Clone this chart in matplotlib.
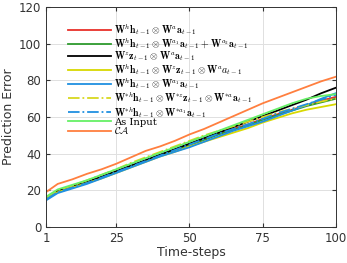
import numpy as np
import matplotlib.pyplot as plt

plt.rcParams['mathtext.fontset'] = 'cm'

steps = [1, 5, 10, 15, 20, 25, 30, 35, 40, 45, 50, 55, 60, 65, 70, 75, 80, 85, 90, 95, 100]

red    = [15.5, 19.5, 22.0, 24.5, 27.0, 30.0, 33.0, 36.0, 39.0, 42.0, 45.0, 48.0, 51.0, 53.5, 56.0, 59.0, 61.5, 64.0, 66.5, 69.0, 71.0]
green  = [15.5, 19.5, 22.0, 24.5, 27.0, 30.0, 33.0, 36.0, 39.0, 42.0, 44.5, 47.5, 50.5, 53.0, 55.5, 58.5, 61.0, 63.5, 66.0, 68.0, 70.0]
black  = [15.5, 19.5, 22.0, 24.5, 27.5, 30.5, 33.5, 36.5, 39.5, 42.5, 45.5, 48.5, 51.5, 54.5, 57.5, 60.5, 63.5, 66.5, 69.5, 73.0, 76.0]
yellow = [15.0, 19.0, 21.5, 24.0, 26.5, 29.5, 32.5, 35.5, 38.5, 41.0, 44.0, 46.5, 49.0, 51.5, 54.0, 57.0, 59.5, 62.0, 64.0, 65.5, 67.0]
blue   = [14.5, 18.5, 21.0, 23.5, 26.5, 29.5, 32.5, 35.5, 38.5, 41.0, 43.5, 46.5, 49.5, 52.5, 55.0, 57.5, 60.5, 63.5, 66.5, 70.0, 73.0]
ydash  = [16.0, 20.0, 22.5, 25.5, 28.5, 31.5, 35.0, 38.0, 41.0, 44.0, 47.0, 50.0, 52.5, 55.0, 57.5, 60.0, 62.5, 64.5, 66.5, 68.5, 70.0]
bdash  = [15.0, 19.0, 21.5, 24.0, 27.0, 30.0, 33.0, 36.0, 39.0, 42.0, 45.0, 48.0, 51.0, 53.5, 56.0, 59.0, 62.0, 64.5, 67.0, 69.5, 72.0]
asinp  = [16.5, 20.5, 23.0, 25.5, 28.5, 31.5, 34.5, 37.5, 40.5, 43.5, 46.5, 49.5, 52.5, 55.5, 58.5, 61.5, 64.5, 67.5, 70.0, 71.5, 72.5]
ca     = [19.0, 23.5, 26.0, 29.0, 31.5, 34.5, 38.0, 41.5, 44.0, 47.0, 50.5, 53.5, 57.0, 60.5, 64.0, 67.5, 70.5, 73.5, 76.5, 79.5, 82.0]

labels = [
    r'$\mathbf{W}^h\mathbf{h}_{t-1}\otimes\mathbf{W}^a\mathbf{a}_{t-1}$',
    r'$\mathbf{W}^h\mathbf{h}_{t-1}\otimes\mathbf{W}^{a_1}\mathbf{a}_{t-1}+\mathbf{W}^{a_2}\mathbf{a}_{t-1}$',
    r'$\mathbf{W}^z\mathbf{z}_{t-1}\otimes\mathbf{W}^a\mathbf{a}_{t-1}$',
    r'$\mathbf{W}^h\mathbf{h}_{t-1}\otimes\mathbf{W}^z\mathbf{z}_{t-1}\otimes\mathbf{W}^a a_{t-1}$',
    r'$\mathbf{W}^h\mathbf{h}_{t-1}\otimes\mathbf{W}^{a_1}\mathbf{a}_{t-1}$',
    r'$\mathbf{W}^{*h}\mathbf{h}_{t-1}\otimes\mathbf{W}^{*z}\mathbf{z}_{t-1}\otimes\mathbf{W}^{*a}\mathbf{a}_{t-1}$',
    r'$\mathbf{W}^{*h}\mathbf{h}_{t-1}\otimes\mathbf{W}^{*a_1}\mathbf{a}_{t-1}$',
    'As Input',
    r'$\mathcal{CA}$',
]

series = [red, green, black, yellow, blue, ydash, bdash, asinp, ca]
colors = ['#e8302a', '#2e9b2e', '#000000', '#d8d800', '#2090e0', '#d8d820', '#2090e0', '#66f066', '#ff7f3f']
styles = ['-', '-', '-', '-', '-', '-.', '-.', '-', '-']

fig = plt.figure(figsize=(3.47, 2.63), dpi=100)
ax = fig.add_axes([0.1326, 0.137, 0.8354, 0.836])

for y, c, ls, lab in zip(series, colors, styles, labels):
    ax.plot(steps, y, color=c, ls=ls, lw=1.3, label=lab)

ax.set_xlim(1, 100)
ax.set_ylim(0, 120)
ax.set_xticks([1, 25, 50, 75, 100])
ax.set_yticks([0, 20, 40, 60, 80, 100, 120])
ax.grid(True, color='#e0e0e0', lw=0.7)
ax.tick_params(direction='in', top=True, right=True, labelsize=8.5, length=3, colors='#333333')
for s in ax.spines.values():
    s.set_color('#333333')
    s.set_linewidth(0.7)
ax.set_xlabel('Time-steps', fontsize=9, color='#333333', labelpad=1)
ax.set_ylabel('Prediction Error', fontsize=9, color='#333333', labelpad=3)

leg = ax.legend(loc='upper left', bbox_to_anchor=(0.076, 0.935), frameon=False,
                handlelength=4.3, labelspacing=-0.17, handletextpad=0.3,
                borderaxespad=0.0, borderpad=0.0, prop={'family': 'serif', 'size': 7.2})

fig.savefig('out.png', dpi=100)
